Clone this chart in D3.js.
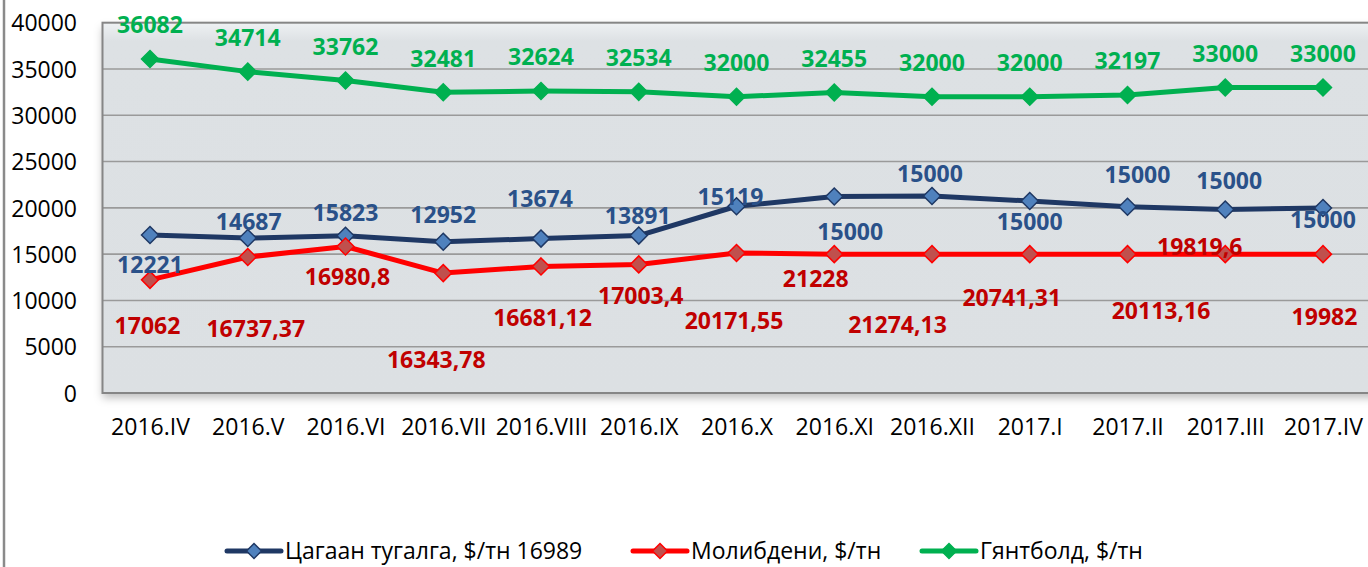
<!DOCTYPE html>
<html>
<head>
<meta charset="utf-8">
<script src="https://cdn.jsdelivr.net/npm/d3@7"></script>
<style>
  html, body { margin: 0; padding: 0; background: #fff; }
  svg { display: block; }
  text { font-family: "Open Sans", "Noto Sans", sans-serif; }
</style>
</head>
<body>
<svg id="chart" width="1368" height="567"></svg>
<script>
// ---- data ----
const categories = ["2016.IV","2016.V","2016.VI","2016.VII","2016.VIII","2016.IX","2016.X","2016.XI","2016.XII","2017.I","2017.II","2017.III","2017.IV"];
const tinValues = [17062, 16737.37, 16980.8, 16343.78, 16681.12, 17003.4, 20171.55, 21228, 21274.13, 20741.31, 20113.16, 19819.6, 19982];
const molyValues = [12221, 14687, 15823, 12952, 13674, 13891, 15119, 15000, 15000, 15000, 15000, 15000, 15000];
const tungstenValues = [36082, 34714, 33762, 32481, 32624, 32534, 32000, 32455, 32000, 32000, 32197, 33000, 33000];
const yTicks = [0, 5000, 10000, 15000, 20000, 25000, 30000, 35000, 40000];
const seriesNames = ["Цагаан тугалга, $/тн 16989", "Молибдени, $/тн", "Гянтболд, $/тн"];

// label offsets (pixels, styling only)
const tinLabelDx = [-2.5, 8, 2, -7, 1.5, 2, -2.5, -18.5, -34.5, -18, 33.5, -25.5, 1.5];
const tinLabelDy = [91, 91, 41, 118, 79, 60, 114, 82, 129, 97, 103.5, 37, 109];
const molyLabelDx = [0, 1, 0, 0, -1, -1, -6, 16, -2, 0, 10, 4, 0];
const molyLabelDy = [-15.6, -35, -33.7, -58.4, -67.7, -48.7, -56.3, -22.4, -80.4, -32.4, -79, -73, -34];

// ---- layout ----
const svg = d3.select("#chart");
const plot = { left: 102.5, top: 22.7, right: 1380, bottom: 393 };

const x = d3.scalePoint().domain(categories).range([150, 1323]);
const y = d3.scaleLinear().domain([0, 40000]).range([plot.bottom, plot.top]);

const defs = svg.append("defs");
const grad = defs.append("linearGradient").attr("id", "bg").attr("x1", 0).attr("y1", 0).attr("x2", 0).attr("y2", 1);
grad.append("stop").attr("offset", "0%").attr("stop-color", "#eef1f3");
grad.append("stop").attr("offset", "5%").attr("stop-color", "#dde1e4");
grad.append("stop").attr("offset", "100%").attr("stop-color", "#dce0e3");
const sh = defs.append("filter").attr("id", "shadow").attr("x", "-5%").attr("y", "-5%").attr("width", "110%").attr("height", "120%");
sh.append("feDropShadow").attr("dx", 0).attr("dy", 5).attr("stdDeviation", 4).attr("flood-color", "#000").attr("flood-opacity", 0.25);

// outer border (left edge)
svg.append("line").attr("x1", 4).attr("x2", 4).attr("y1", 0).attr("y2", 567)
  .attr("stroke", "#8a8a8a").attr("stroke-width", 2.5);

// plot area
svg.append("rect")
  .attr("x", plot.left).attr("y", plot.top)
  .attr("width", plot.right - plot.left).attr("height", plot.bottom - plot.top)
  .attr("fill", "url(#bg)").attr("filter", "url(#shadow)");

// gridlines
svg.append("g").selectAll("line").data(yTicks.filter(t => t > 0 && t < 40000)).join("line")
  .attr("x1", plot.left).attr("x2", plot.right)
  .attr("y1", d => y(d)).attr("y2", d => y(d))
  .attr("stroke", "#9a9a9a").attr("stroke-width", 1.6);

// frame
svg.append("rect")
  .attr("x", plot.left).attr("y", plot.top)
  .attr("width", plot.right - plot.left).attr("height", plot.bottom - plot.top)
  .attr("fill", "none").attr("stroke", "#868686").attr("stroke-width", 2);

// y axis labels
const yAxis = d3.axisLeft(y).tickValues(yTicks).tickSize(0).tickPadding(0).tickFormat(d => String(d));
const yg = svg.append("g").attr("transform", `translate(77,0)`).call(yAxis);
yg.select(".domain").remove();
yg.selectAll("text").attr("font-size", 23).attr("fill", "#000")
  .attr("font-family", "'Open Sans', sans-serif").attr("dy", "0.36em");

// x axis labels
const xAxis = d3.axisBottom(x).tickSize(0).tickPadding(0);
const xg = svg.append("g").attr("transform", `translate(0,${plot.bottom})`).call(xAxis);
xg.select(".domain").remove();
xg.selectAll("text").attr("font-size", 23).attr("fill", "#000")
  .attr("font-family", "'Open Sans', sans-serif").attr("y", 42).attr("dy", 0);

// series
const diamond = r => `M0,${-r}L${r},0L0,${r}L${-r},0Z`;
const series = [
  { values: tinValues, line: "#1f3864", fill: "#4f81bd", mstroke: "#1f3864" },
  { values: molyValues, line: "#ff0000", fill: "#c0504d", mstroke: "#ff0000" },
  { values: tungstenValues, line: "#00b050", fill: "#00b050", mstroke: "#00b050" }
];
const lineGen = d3.line().x((d, i) => x(categories[i])).y(d => y(d));

series.forEach(s => {
  svg.append("path").datum(s.values).attr("d", lineGen)
    .attr("fill", "none").attr("stroke", s.line).attr("stroke-width", 5)
    .attr("stroke-linejoin", "round").attr("stroke-linecap", "round");
});
series.forEach(s => {
  svg.append("g").selectAll("path").data(s.values).join("path")
    .attr("d", diamond(8.5))
    .attr("transform", (d, i) => `translate(${x(categories[i])},${y(d)})`)
    .attr("fill", s.fill).attr("stroke", s.mstroke).attr("stroke-width", 1.5);
});

// data labels
const fmt = v => String(v).replace(".", ",");
function labels(values, dxs, dys, color) {
  svg.append("g").selectAll("text").data(values).join("text")
    .attr("x", (d, i) => x(categories[i]) + dxs[i])
    .attr("y", (d, i) => y(d) + dys[i] + 8.3)
    .attr("text-anchor", "middle")
    .attr("font-size", 23).attr("font-weight", "bold")
    .attr("fill", color)
    .text(d => fmt(d));
}
labels(tungstenValues, tungstenValues.map(() => 0), tungstenValues.map(() => -34), "#00b050");
labels(molyValues, molyLabelDx, molyLabelDy, "#2a5189");
labels(tinValues, tinLabelDx, tinLabelDy, "#c00000");

// legend
const legendX = [227, 633, 922];
const legend = svg.append("g").attr("transform", "translate(0,551)");
series.forEach((s, i) => {
  const g = legend.append("g").attr("transform", `translate(${legendX[i]},0)`);
  g.append("line").attr("x1", 0).attr("x2", 54).attr("y1", 0).attr("y2", 0)
    .attr("stroke", s.line).attr("stroke-width", 5).attr("stroke-linecap", "round");
  g.append("path").attr("d", diamond(7.5)).attr("transform", "translate(27,0)")
    .attr("fill", s.fill).attr("stroke", s.mstroke).attr("stroke-width", 1.5);
  g.append("text").attr("x", 58).attr("y", 8.3).attr("font-size", 23).attr("fill", "#000")
    .text(seriesNames[i]);
});
</script>
</body>
</html>
